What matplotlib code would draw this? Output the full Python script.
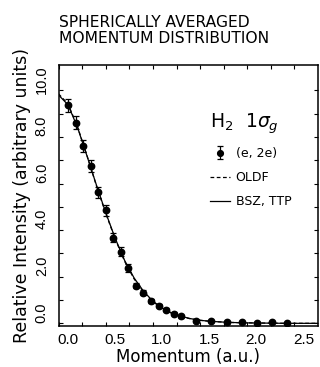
import matplotlib
matplotlib.use("Agg")
import matplotlib.pyplot as plt
import matplotlib.transforms as mtransforms

# ---- data ----
momentum = [0.10, 0.18, 0.26, 0.34, 0.42, 0.50, 0.58, 0.66, 0.74, 0.82, 0.90, 0.98,
            1.06, 1.14, 1.22, 1.30, 1.46, 1.62, 1.78, 1.94, 2.10, 2.26, 2.42]
intensity = [9.35, 8.62, 7.62, 6.75, 5.62, 4.85, 3.68, 3.08, 2.37, 1.62, 1.32, 0.95,
             0.75, 0.58, 0.42, 0.30, 0.12, 0.08, 0.04, 0.04, 0.02, 0.04, 0.00]
errors = [0.30, 0.28, 0.27, 0.26, 0.25, 0.24, 0.20, 0.18, 0.16, 0.12, 0.10, 0.08,
          0.07, 0.06, 0.05, 0.05, 0.04, 0.04, 0.03, 0.03, 0.03, 0.03, 0.03]

theory_p = [0.0, 0.1, 0.2, 0.3, 0.4, 0.5, 0.6, 0.7, 0.8, 0.9, 1.0, 1.1, 1.2, 1.3,
            1.4, 1.5, 1.6, 1.8, 2.0, 2.2, 2.4, 2.6, 2.75]
bsz_ttp = [9.80, 9.38, 8.42, 7.20, 5.95, 4.75, 3.65, 2.70, 1.95, 1.38, 0.95, 0.65,
           0.44, 0.30, 0.20, 0.13, 0.09, 0.04, 0.02, 0.01, 0.00, 0.00, 0.00]
oldf = [9.85, 9.42, 8.45, 7.22, 5.92, 4.72, 3.62, 2.66, 1.91, 1.35, 0.93, 0.63,
        0.43, 0.29, 0.19, 0.13, 0.09, 0.04, 0.02, 0.01, 0.00, 0.00, 0.00]

x_ticks = [0.0, 0.5, 1.0, 1.5, 2.0, 2.5]
x_ticklabels = ["0.0", "0.5", "1.0", "1.5", "2.0", "2.5"]
y_ticks = [0, 2, 4, 6, 8, 10]
y_ticklabels = ["0.0", "2.0", "4.0", "6.0", "8.0", "10.0"]

plt.rcParams["font.family"] = ["DejaVu Sans"]
plt.rcParams["mathtext.fontset"] = "dejavusans"
tick_font = ["Liberation Sans", "DejaVu Sans"]

fig = plt.figure(figsize=(3.2, 3.67), dpi=100)
ax = fig.add_axes([0.183, 0.112, 0.811, 0.711])

ax.plot(theory_p, oldf, color="black", lw=0.9, ls=(0, (3, 2)), label="OLDF")
ax.plot(theory_p, bsz_ttp, color="black", lw=0.9, label="BSZ, TTP")
ax.errorbar(momentum, intensity, yerr=errors, fmt="o", color="black",
            ms=4.6, elinewidth=0.9, capsize=2.2, capthick=0.9, label="(e, 2e)")

ax.set_xlim(0, 2.75)
ax.set_ylim(-0.11, 11.09)
ax.set_xticks(x_ticks)
ax.set_xticklabels(x_ticklabels, family=tick_font, fontsize=11)
ax.set_xticks([0.25, 0.75, 1.25, 1.75, 2.25], minor=True)
ax.set_yticks(y_ticks)
ax.set_yticklabels(y_ticklabels, rotation=90, va="center", family=tick_font,
                   fontsize=10.5)
ax.set_yticks([1, 3, 5, 7, 9], minor=True)
ax.tick_params(which="both", direction="in", length=3, width=0.8,
               top=True, right=True)
ax.tick_params(axis="x", which="major", pad=5)
ax.tick_params(axis="y", which="major", pad=7)
for s in ax.spines.values():
    s.set_linewidth(1.1)

# shift tick labels like in the scanned original
dx = mtransforms.ScaledTranslation(0.09, 0, fig.dpi_scale_trans)
for lab in ax.get_xticklabels():
    lab.set_transform(lab.get_transform() + dx)
dy = mtransforms.ScaledTranslation(0, 0.11, fig.dpi_scale_trans)
for lab in ax.get_yticklabels():
    lab.set_transform(lab.get_transform() + dy)

ax.set_xlabel("Momentum (a.u.)", fontsize=12, labelpad=1)
ax.set_ylabel("Relative Intensity (arbitrary units)", fontsize=12.5, labelpad=3)
ax.set_title("SPHERICALLY AVERAGED\nMOMENTUM DISTRIBUTION", loc="left",
             fontsize=11.2, pad=16, linespacing=1.08)

handles, labels = ax.get_legend_handles_labels()
order = [labels.index("(e, 2e)"), labels.index("OLDF"), labels.index("BSZ, TTP")]
leg = ax.legend([handles[i] for i in order], [labels[i] for i in order],
                title=r"H$_2$  1$\sigma_g$", title_fontsize=13.5, fontsize=9,
                frameon=False, loc="upper left", bbox_to_anchor=(0.55, 0.855),
                handlelength=1.6, handletextpad=0.45, labelspacing=0.88,
                alignment="left", borderpad=0.2, markerscale=0.9)

fig.savefig("out.png", dpi=100)
